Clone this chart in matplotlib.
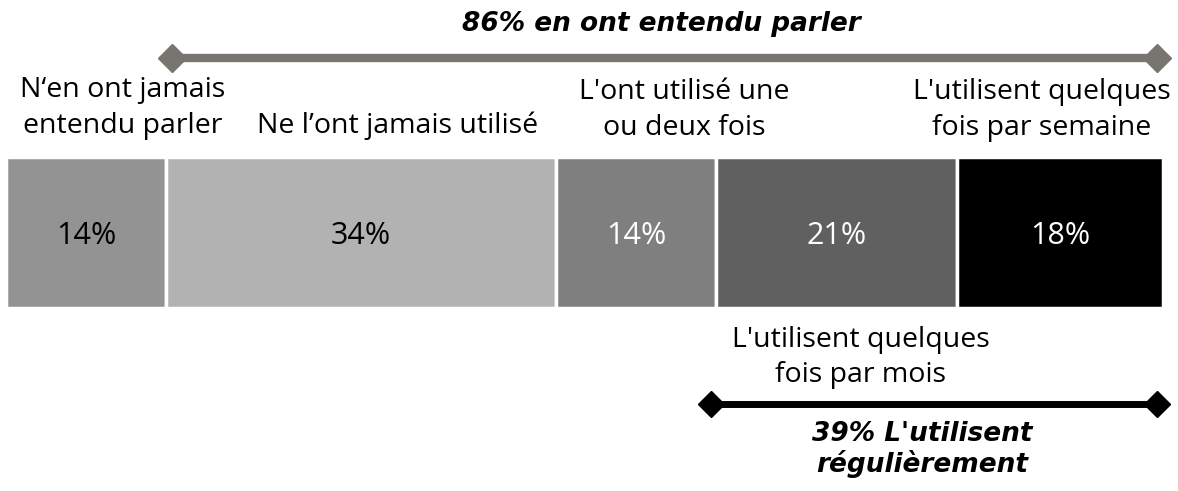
import numpy as np
import matplotlib
matplotlib.use('Agg')
import matplotlib.pyplot as plt

plt.rcParams['font.family'] = ['Open Sans', 'DejaVu Sans']

values = [14, 34, 14, 21, 18]
colors = ['#939393', '#b2b2b2', '#7f7f7f', '#606060', '#000000']
text_colors = ['black', 'black', 'white', 'white', 'white']
top_labels = ["N\u2018en ont jamais\nentendu parler", "Ne l\u2019ont jamais utilis\u00e9",
              "L'ont utilis\u00e9 une\nou deux fois", None, "L'utilisent quelques\nfois par semaine"]
bottom_label = "L'utilisent quelques\nfois par mois"
heard_title = "86% en ont entendu parler"
regular_title = "39% L'utilisent\nr\u00e9guli\u00e8rement"

lefts = np.concatenate([[0], np.cumsum(values)[:-1]])
centers = lefts + np.array(values) / 2
total = sum(values)

fig = plt.figure(figsize=(11.78, 4.91), dpi=100)
ax = fig.add_axes([0, 0, 1, 1])
ax.set_xlim(-0.52, 102.3)
ax.set_ylim(491, 0)
ax.axis('off')

ax.barh(232.5, values, left=lefts, height=151, color=colors, edgecolor='white', linewidth=2.5)

for x, v, tc in zip(centers, values, text_colors):
    ax.text(x, 236, f"{v}%", ha='center', va='center', fontsize=22, color=tc)

# label offsets from segment centres, baseline of last line
label_dx = [3.2, 3.2, 4.2, None, -1.6]
label_y = [133, 133, 135, None, 135]
for x, dx, y, lab in zip(centers, label_dx, label_y, top_labels):
    if lab is None:
        continue
    ax.text(x + dx, y, lab, ha='center', va='baseline', fontsize=20.5, linespacing=1.38)

ax.text(centers[3] + 2.1, 382, bottom_label, ha='center', va='baseline',
        fontsize=20.5, linespacing=1.35)

# arrows
ax.plot([lefts[1] + 0.5, total - 0.5], [58, 58], color='#787470', lw=6,
        marker='D', markersize=14, solid_capstyle='butt')
ax.plot([lefts[3] - 0.5, total - 0.5], [404, 404], color='black', lw=5,
        marker='D', markersize=13, solid_capstyle='butt')

ax.text(57.2, 24, heard_title, ha='center', va='center', fontsize=19,
        fontweight='bold', fontstyle='italic', family='DejaVu Sans')
ax.text(80.0, 472, regular_title, ha='center', va='baseline', fontsize=19,
        fontweight='bold', fontstyle='italic', family='DejaVu Sans', linespacing=1.15)

plt.savefig('out.png', dpi=100)
